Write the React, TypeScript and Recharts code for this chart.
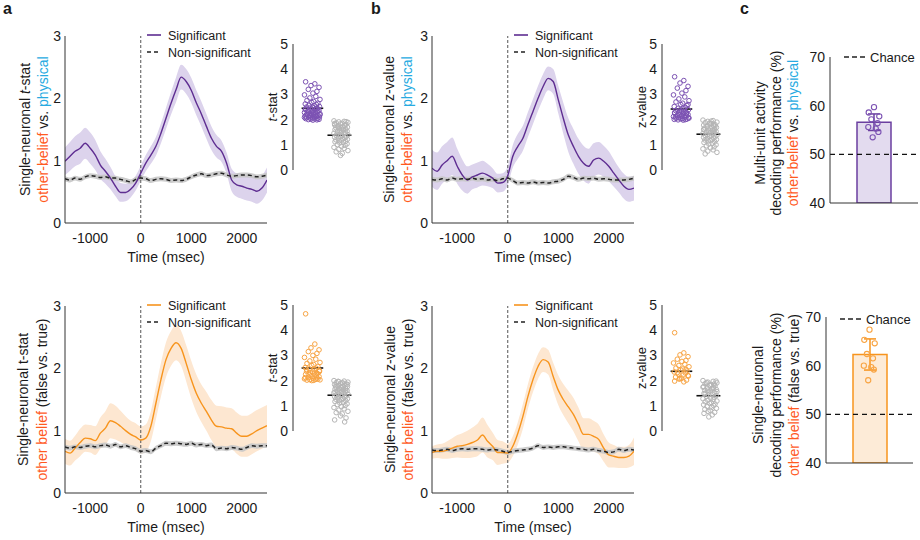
import { ComposedChart, Area, Line, XAxis, YAxis, ReferenceLine, Legend, ScatterChart, Scatter, Bar, ErrorBar } from 'recharts'

const FONT = "'Liberation Sans', Arial, Helvetica, sans-serif"
const INK = '#1a1a1a'
const AXIS = '#333'
const RED_TXT = '#ff5a1f'
const BLUE_TXT = '#27aae1'
const PURPLE = '#5e2d91'
const PURPLE_BAND = '#dcd3ec'
const PURPLE_PT = '#7c52b3'
const ORANGE = '#f7941d'
const ORANGE_BAND = '#fde7d1'
const ORANGE_PT = '#f8a443'
const GRAY_BAND = '#c6c6c6'
const GRAY_PT = '#b5b5b5'

// time axis (msec)
const timeMs = [-1500, -1400, -1300, -1200, -1100, -1000, -900, -800, -700, -600, -500, -400, -300, -200, -100, 0, 100, 200, 300, 400, 500, 600, 700, 800, 900, 1000, 1100, 1200, 1300, 1400, 1500, 1600, 1700, 1800, 1900, 2000, 2100, 2200, 2300, 2400, 2500]
const timeTicks = [-1000, 0, 1000, 2000]
const NS_SEM = 0.04

// a, top: t-stat other-belief vs physical
const aTopSig = [0.99, 1.07, 1.15, 1.2, 1.28, 1.2, 1.09, 0.93, 0.83, 0.72, 0.59, 0.49, 0.49, 0.54, 0.64, 0.8, 0.96, 1.09, 1.23, 1.44, 1.68, 1.92, 2.14, 2.34, 2.27, 2.13, 1.93, 1.75, 1.55, 1.36, 1.23, 1.15, 0.96, 0.69, 0.61, 0.59, 0.56, 0.54, 0.51, 0.56, 0.69]
const aTopErr = [0.22, 0.23, 0.24, 0.25, 0.25, 0.25, 0.24, 0.22, 0.2, 0.18, 0.16, 0.15, 0.14, 0.13, 0.12, 0.12, 0.13, 0.14, 0.15, 0.16, 0.17, 0.18, 0.2, 0.2, 0.2, 0.2, 0.2, 0.2, 0.2, 0.19, 0.18, 0.17, 0.17, 0.18, 0.19, 0.2, 0.2, 0.2, 0.2, 0.2, 0.2]
const aTopNs = [0.71, 0.69, 0.72, 0.7, 0.74, 0.76, 0.75, 0.73, 0.74, 0.72, 0.72, 0.7, 0.68, 0.66, 0.7, 0.72, 0.71, 0.68, 0.7, 0.71, 0.7, 0.68, 0.69, 0.68, 0.7, 0.74, 0.77, 0.79, 0.76, 0.77, 0.79, 0.8, 0.77, 0.75, 0.76, 0.77, 0.77, 0.76, 0.74, 0.75, 0.77]

// b, top: z-value other-belief vs physical
const bTopSig = [0.88, 0.83, 0.93, 1.0, 1.07, 0.91, 0.77, 0.69, 0.74, 0.77, 0.8, 0.77, 0.72, 0.64, 0.65, 0.76, 1.07, 1.23, 1.36, 1.58, 1.79, 2.0, 2.19, 2.32, 2.27, 1.98, 1.68, 1.41, 1.23, 1.07, 0.96, 0.91, 1.01, 1.04, 0.99, 0.91, 0.8, 0.69, 0.59, 0.54, 0.56]
const bTopErr = [0.3, 0.3, 0.3, 0.3, 0.3, 0.28, 0.25, 0.22, 0.2, 0.2, 0.2, 0.18, 0.16, 0.15, 0.15, 0.15, 0.18, 0.2, 0.2, 0.2, 0.2, 0.2, 0.2, 0.19, 0.2, 0.22, 0.25, 0.27, 0.28, 0.28, 0.28, 0.28, 0.27, 0.26, 0.25, 0.24, 0.22, 0.2, 0.2, 0.2, 0.2]
const bTopNs = [0.7, 0.69, 0.71, 0.69, 0.72, 0.7, 0.71, 0.7, 0.72, 0.7, 0.71, 0.69, 0.7, 0.68, 0.71, 0.72, 0.68, 0.64, 0.65, 0.64, 0.66, 0.64, 0.65, 0.64, 0.66, 0.67, 0.7, 0.75, 0.73, 0.7, 0.72, 0.71, 0.72, 0.7, 0.71, 0.7, 0.69, 0.69, 0.69, 0.7, 0.72]

// a, bottom: t-stat other belief (false vs true)
const aBotSig = [0.67, 0.64, 0.72, 0.81, 0.88, 0.87, 0.84, 0.96, 1.04, 1.16, 1.13, 1.07, 1.0, 0.94, 0.9, 0.85, 0.88, 1.07, 1.44, 1.82, 2.14, 2.32, 2.41, 2.32, 2.08, 1.82, 1.6, 1.44, 1.31, 1.17, 1.07, 1.06, 1.04, 1.03, 0.96, 0.91, 0.91, 0.95, 1.0, 1.04, 1.08]
const aBotErr = [0.2, 0.2, 0.2, 0.22, 0.22, 0.22, 0.23, 0.25, 0.27, 0.28, 0.27, 0.25, 0.23, 0.22, 0.22, 0.22, 0.22, 0.24, 0.26, 0.27, 0.28, 0.28, 0.28, 0.28, 0.29, 0.3, 0.3, 0.3, 0.31, 0.32, 0.33, 0.33, 0.33, 0.33, 0.33, 0.33, 0.33, 0.33, 0.33, 0.33, 0.33]
const aBotNs = [0.74, 0.72, 0.74, 0.73, 0.75, 0.76, 0.74, 0.76, 0.77, 0.75, 0.78, 0.74, 0.76, 0.73, 0.71, 0.67, 0.68, 0.66, 0.72, 0.76, 0.8, 0.79, 0.8, 0.79, 0.78, 0.8, 0.77, 0.78, 0.76, 0.77, 0.71, 0.72, 0.71, 0.73, 0.72, 0.7, 0.73, 0.76, 0.75, 0.76, 0.76]

// b, bottom: z-value other belief (false vs true)
const bBotSig = [0.65, 0.67, 0.67, 0.69, 0.72, 0.75, 0.76, 0.78, 0.81, 0.85, 0.93, 0.83, 0.75, 0.65, 0.65, 0.64, 0.75, 0.96, 1.23, 1.55, 1.82, 2.03, 2.14, 2.1, 1.87, 1.65, 1.5, 1.38, 1.26, 1.1, 0.94, 0.94, 0.91, 0.86, 0.72, 0.61, 0.59, 0.57, 0.57, 0.59, 0.67]
const bBotErr = [0.1, 0.11, 0.12, 0.14, 0.16, 0.18, 0.2, 0.22, 0.24, 0.26, 0.28, 0.26, 0.22, 0.2, 0.18, 0.15, 0.16, 0.18, 0.2, 0.2, 0.2, 0.2, 0.2, 0.2, 0.22, 0.24, 0.25, 0.26, 0.27, 0.27, 0.26, 0.26, 0.25, 0.24, 0.22, 0.2, 0.18, 0.17, 0.17, 0.18, 0.22]
const bBotNs = [0.69, 0.68, 0.69, 0.7, 0.68, 0.7, 0.71, 0.7, 0.71, 0.71, 0.7, 0.69, 0.7, 0.69, 0.67, 0.65, 0.67, 0.68, 0.69, 0.7, 0.72, 0.76, 0.73, 0.74, 0.73, 0.74, 0.74, 0.73, 0.72, 0.71, 0.7, 0.69, 0.7, 0.68, 0.67, 0.65, 0.66, 0.7, 0.68, 0.7, 0.69]

// per-neuron peak values (strip plots)
const aTopPts = [3.5, 3.42, 3.35, 3.28, 3.2, 3.12, 3.05, 2.98, 2.92, 2.86, 2.8, 2.76, 2.72, 2.68, 2.65, 2.62, 2.6, 2.57, 2.55, 2.52, 2.5, 2.48, 2.46, 2.44, 2.42, 2.4, 2.38, 2.36, 2.34, 2.32, 2.3, 2.28, 2.26, 2.25, 2.23, 2.21, 2.2, 2.18, 2.17, 2.15, 2.14, 2.12, 2.11, 2.1, 2.08, 2.07, 2.06, 2.05, 2.04, 2.03, 2.02, 2.01, 2.0, 1.99, 1.98, 2.09, 2.13, 2.16, 2.19, 2.22, 2.27, 2.31, 2.35, 2.4, 2.45]
const aTopGray = [1.95, 1.93, 1.91, 1.89, 1.87, 1.85, 1.83, 1.81, 1.79, 1.77, 1.75, 1.72, 1.7, 1.68, 1.66, 1.64, 1.62, 1.6, 1.58, 1.56, 1.54, 1.52, 1.5, 1.48, 1.46, 1.44, 1.42, 1.4, 1.38, 1.36, 1.34, 1.32, 1.3, 1.28, 1.26, 1.24, 1.22, 1.2, 1.18, 1.16, 1.14, 1.12, 1.1, 1.07, 1.04, 1.01, 0.98, 0.94, 0.9, 0.86, 0.82, 0.77, 0.72, 0.66, 0.58, 1.92, 1.84, 1.76, 1.69, 1.61]
const bTopPts = [3.7, 3.55, 3.45, 3.32, 3.25, 3.15, 3.05, 2.98, 2.9, 2.82, 2.75, 2.7, 2.65, 2.6, 2.56, 2.52, 2.48, 2.45, 2.42, 2.39, 2.36, 2.33, 2.3, 2.28, 2.26, 2.24, 2.22, 2.2, 2.18, 2.16, 2.14, 2.12, 2.1, 2.08, 2.06, 2.05, 2.04, 2.03, 2.02, 2.01, 2.0, 1.99, 1.98, 2.07, 2.11, 2.15, 2.19, 2.23, 2.27, 2.32, 2.38, 2.6]
const bTopGray = [1.98, 1.96, 1.93, 1.9, 1.88, 1.85, 1.83, 1.8, 1.78, 1.76, 1.73, 1.71, 1.69, 1.67, 1.65, 1.63, 1.61, 1.59, 1.57, 1.55, 1.53, 1.51, 1.49, 1.47, 1.45, 1.43, 1.41, 1.39, 1.37, 1.35, 1.33, 1.31, 1.29, 1.27, 1.25, 1.23, 1.21, 1.19, 1.17, 1.15, 1.12, 1.09, 1.06, 1.03, 1.0, 0.96, 0.92, 0.88, 0.84, 0.8, 0.75, 0.7, 0.64, 1.94, 1.86, 1.74, 1.62, 1.52]
const aBotPts = [4.65, 3.45, 3.3, 3.22, 3.15, 3.08, 3.0, 2.92, 2.85, 2.78, 2.72, 2.68, 2.64, 2.6, 2.56, 2.52, 2.49, 2.46, 2.43, 2.4, 2.37, 2.34, 2.31, 2.28, 2.25, 2.22, 2.19, 2.16, 2.13, 2.11, 2.09, 2.07, 2.05, 2.04, 2.03, 2.02, 2.01, 2.0, 2.06, 2.12, 2.18, 2.24, 2.3, 2.36, 2.44]
const aBotGray = [2.0, 1.98, 1.96, 1.94, 1.92, 1.9, 1.88, 1.86, 1.84, 1.82, 1.8, 1.78, 1.76, 1.74, 1.72, 1.7, 1.68, 1.66, 1.64, 1.62, 1.6, 1.58, 1.56, 1.54, 1.52, 1.5, 1.48, 1.46, 1.44, 1.42, 1.4, 1.38, 1.36, 1.34, 1.32, 1.3, 1.28, 1.26, 1.24, 1.22, 1.2, 1.17, 1.14, 1.11, 1.08, 1.05, 1.01, 0.97, 0.93, 0.88, 0.83, 0.78, 0.73, 0.68, 0.6, 0.52, 0.44, 0.36, 1.97, 1.91, 1.85, 1.79, 1.73, 1.67, 1.61, 1.55]
const bBotPts = [3.9, 3.1, 3.02, 2.95, 2.85, 2.8, 2.76, 2.7, 2.65, 2.6, 2.55, 2.5, 2.46, 2.42, 2.38, 2.34, 2.3, 2.26, 2.22, 2.18, 2.14, 2.1, 2.06, 2.02, 1.98, 1.95, 2.08, 2.2, 2.32, 2.44]
const bBotGray = [2.0, 1.97, 1.94, 1.91, 1.88, 1.85, 1.82, 1.79, 1.76, 1.73, 1.7, 1.67, 1.64, 1.61, 1.58, 1.55, 1.52, 1.49, 1.46, 1.43, 1.4, 1.37, 1.34, 1.31, 1.28, 1.25, 1.22, 1.19, 1.16, 1.13, 1.1, 1.07, 1.04, 1.01, 0.98, 0.94, 0.9, 0.86, 0.82, 0.78, 0.74, 0.7, 0.64, 0.56, 1.98, 1.92, 1.86, 1.8, 1.74, 1.68, 1.62, 1.56, 1.5]
const stripMeans = { aTop: [2.45, 1.38], bTop: [2.42, 1.42], aBot: [2.5, 1.42], bBot: [2.37, 1.4] }

// c: decoding performance (%)
const cTopMean = 56.6
const cTopErr = 1.7
const cTopPts = [59.7, 58.6, 57.8, 57.2, 56.4, 55.6, 55.3, 54.6, 53.5]
const cBotMean = 62.3
const cBotErr = 3.2
const cBotPts = [67.4, 65.3, 64.6, 62.4, 61.5, 60.0, 59.7, 59.2, 57.0]

// horizontal jitter of dots (x offsets)
const stripJitter = [-0.34, 0.14, -0.06, 0.36, -0.2, 0.25, 0.04, -0.4, 0.19, -0.12, 0.41, -0.27, 0.08, -0.02, 0.3, -0.36, 0.22, -0.16, 0.11, 0.38, -0.29, 0.02, -0.1, 0.28]
const barJitter = [0.0, -0.12, 0.12, -0.06, 0.08, -0.13, 0.04, 0.1, -0.03]

type Seg = { t: string; c?: string; i?: boolean }

const rotLabel = (lines: Seg[][], xs: number[], dy: number, size: number) => (props: any) => {
  const vb = props.viewBox || { y: 0, height: 0 }
  const cy = vb.y + vb.height / 2 + dy
  return (
    <g>
      {lines.map((segs, k) => (
        <text key={k} x={xs[k]} y={cy} transform={`rotate(-90 ${xs[k]} ${cy})`} textAnchor="middle" dominantBaseline="central" fontSize={size} fill={INK}>
          {segs.map((s, j) => (
            <tspan key={j} fill={s.c ?? INK} fontStyle={s.i ? 'italic' : undefined}>{s.t}</tspan>
          ))}
        </text>
      ))}
    </g>
  )
}

const SeriesLegend = ({ color }: { color: string }) => (
  <svg width={140} height={34} style={{ display: 'block' }}>
    <line x1={2} x2={16} y1={8} y2={8} stroke={color} strokeWidth={1.6} />
    <text x={23} y={12.5} fontSize={12.5} fill={INK}>Significant</text>
    <line x1={2} x2={16} y1={25} y2={25} stroke="#222" strokeWidth={1.6} strokeDasharray="4 3" />
    <text x={23} y={29.5} fontSize={12.5} fill={INK}>Non-significant</text>
  </svg>
)

const ChanceLegend = () => (
  <svg width={80} height={16} style={{ display: 'block' }}>
    <line x1={0} x2={21} y1={7} y2={7} stroke="#222" strokeWidth={1.4} strokeDasharray="5 3" />
    <text x={26} y={11.5} fontSize={13} fill={INK}>Chance</text>
  </svg>
)

interface TimeProps {
  left: number; top: number; sig: number[]; err: number[]; ns: number[]
  line: string; band: string; lines: Seg[][]; labelX: number[]
}

function TimePanel({ left, top, sig, err, ns, line, band, lines, labelX }: TimeProps) {
  const rows = timeMs.map((t, i) => ({
    t,
    band: [sig[i] - err[i], sig[i] + err[i]],
    m: sig[i],
    nsBand: [ns[i] - NS_SEM, ns[i] + NS_SEM],
    ns: ns[i],
  }))
  return (
    <div style={{ position: 'absolute', left, top }}>
      <ComposedChart width={275} height={270} data={rows} margin={{ top: 36, right: 8, bottom: 8, left: 20 }}>
        <XAxis dataKey="t" type="number" domain={[-1500, 2500]} ticks={timeTicks} allowDataOverflow
          tick={{ fontSize: 14, fill: INK }} tickLine={false} tickSize={4} tickMargin={6} axisLine={{ stroke: AXIS }} height={39}
          label={{ value: 'Time (msec)', position: 'insideBottom', offset: 0, fontSize: 14, fill: INK }} />
        <YAxis type="number" domain={[0, 3]} ticks={[0, 1, 2, 3]} width={45} tick={{ fontSize: 14, fill: INK }}
          tickLine={false} tickSize={2} tickMargin={2} axisLine={{ stroke: AXIS }} label={rotLabel(lines, labelX, 0, 14)} />
        <Area dataKey="band" type="monotone" stroke="none" fill={band} fillOpacity={1} isAnimationActive={false} />
        <Area dataKey="nsBand" type="monotone" stroke="none" fill={GRAY_BAND} fillOpacity={0.9} isAnimationActive={false} />
        <ReferenceLine x={0} stroke="#555" strokeDasharray="3 2" strokeWidth={1} />
        <Line dataKey="m" type="monotone" stroke={line} strokeWidth={1.4} dot={false} isAnimationActive={false} />
        <Line dataKey="ns" type="monotone" stroke="#222" strokeWidth={1.5} strokeDasharray="4 3" dot={false} isAnimationActive={false} />
        <Legend verticalAlign="middle" align="center" layout="horizontal" content={() => <SeriesLegend color={line} />}
          wrapperStyle={{ left: 145, top: 27, width: 140, height: 34 }} />
      </ComposedChart>
    </div>
  )
}

interface StripProps {
  left: number; top: number; pts: number[]; gray: number[]; means: number[]; color: string; label: Seg[]
}

function StripPanel({ left, top, pts, gray, means, color, label }: StripProps) {
  const sigPts = pts.map((v, i) => ({ x: 1 + stripJitter[i % stripJitter.length], y: v }))
  const grayPts = gray.map((v, i) => ({ x: 2.5 + 0.9 * stripJitter[(i + 7) % stripJitter.length], y: v }))
  const dot = (c: string) => (p: any) => <circle cx={p.cx} cy={p.cy} r={2.3} fill="none" stroke={c} strokeWidth={1} />
  return (
    <div style={{ position: 'absolute', left, top }}>
      <ScatterChart width={110} height={200} margin={{ top: 44, right: 0, bottom: 30, left: 14 }}>
        <XAxis type="number" dataKey="x" domain={[0, 3.5]} hide />
        <YAxis type="number" dataKey="y" domain={[0, 5]} ticks={[0, 1, 2, 3, 4, 5]} width={29} tickSize={3} tickMargin={2}
          tickLine={false} axisLine={{ stroke: AXIS }} tick={{ fontSize: 14, fill: INK }} label={rotLabel([label], [22], 0, 13)} />
        <Scatter data={grayPts} shape={dot(GRAY_PT)} isAnimationActive={false} />
        <Scatter data={sigPts} shape={dot(color)} isAnimationActive={false} />
        <ReferenceLine segment={[{ x: 0.45, y: means[0] }, { x: 1.58, y: means[0] }]} stroke="#111" strokeWidth={1.6} />
        <ReferenceLine segment={[{ x: 1.8, y: means[1] }, { x: 3.05, y: means[1] }]} stroke="#111" strokeWidth={1.6} />
      </ScatterChart>
    </div>
  )
}

interface BarProps {
  left: number; top: number; mean: number; err: number; pts: number[]
  fill: string; stroke: string; ptColor: string; lines: Seg[][]; labelX: number[]; labelDy: number
  margin: { top: number; right: number; bottom: number; left: number }; legendPos: { left: number; top: number }
}

function BarPanel({ left, top, mean, err, pts, fill, stroke, ptColor, lines, labelX, labelDy, margin, legendPos }: BarProps) {
  const w = 220
  const h = 230
  const dots = pts.map((v, i) => ({ x: 1 + barJitter[i % barJitter.length], y: v }))
  return (
    <div style={{ position: 'absolute', left, top, width: w, height: h }}>
      <div style={{ position: 'absolute', left: 0, top: 0 }}>
        <ComposedChart width={w} height={h} data={[{ g: 'perf', v: mean, e: err }]} margin={margin}>
          <XAxis dataKey="g" tick={false} tickLine={false} axisLine={{ stroke: AXIS }} height={1} />
          <YAxis type="number" domain={[40, 70]} ticks={[40, 50, 60, 70]} width={30} tickLine={false} tickSize={2} tickMargin={3}
            axisLine={{ stroke: AXIS }} tick={{ fontSize: 14, fill: INK }} allowDataOverflow
            label={rotLabel(lines, labelX, labelDy, 14)} />
          <Bar dataKey="v" barSize={34} fill={fill} stroke={stroke} strokeWidth={1.5} isAnimationActive={false}>
            <ErrorBar dataKey="e" width={6} stroke={stroke} strokeWidth={1.5} direction="y" />
          </Bar>
          <ReferenceLine y={50} stroke="#111" strokeDasharray="5 4" strokeWidth={1.3} />
          <Legend verticalAlign="middle" align="center" layout="horizontal" content={() => <ChanceLegend />}
            wrapperStyle={{ left: legendPos.left, top: legendPos.top, width: 80, height: 16 }} />
        </ComposedChart>
      </div>
      <div style={{ position: 'absolute', left: 0, top: 0 }}>
        <ScatterChart width={w} height={h} margin={{ ...margin, left: margin.left + 30, bottom: margin.bottom + 1 }}>
          <XAxis type="number" dataKey="x" domain={[0, 2]} hide />
          <YAxis type="number" dataKey="y" domain={[40, 70]} hide />
          <Scatter data={dots} isAnimationActive={false}
            shape={(p: any) => <circle cx={p.cx} cy={p.cy} r={2.6} fill="none" stroke={ptColor} strokeWidth={1.1} />} />
        </ScatterChart>
      </div>
    </div>
  )
}

const ofVsPhysical: Seg[] = [{ t: 'other-belief', c: RED_TXT }, { t: ' vs. ' }, { t: 'physical', c: BLUE_TXT }]
const ofFalseTrue: Seg[] = [{ t: 'other belief', c: RED_TXT }, { t: ' (false vs. true)' }]

const letter = (ch: string, left: number) => (
  <div style={{ position: 'absolute', left, top: 0, fontSize: 16, fontWeight: 'bold', lineHeight: '18px', color: INK }}>{ch}</div>
)

export default function App() {
  return (
    <div style={{ position: 'absolute', left: 0, top: 0, width: 920, height: 540, background: '#fff', fontFamily: FONT, overflow: 'hidden' }}>
      {letter('a', 3)}
      {letter('b', 371)}
      {letter('c', 740)}

      <TimePanel left={0} top={0} sig={aTopSig} err={aTopErr} ns={aTopNs} line={PURPLE} band={PURPLE_BAND}
        lines={[[{ t: 'Single-neuronal ' }, { t: 't', i: true }, { t: '-stat' }], ofVsPhysical]} labelX={[25, 43]} />
      <StripPanel left={250} top={0} pts={aTopPts} gray={aTopGray} means={stripMeans.aTop} color={PURPLE_PT}
        label={[{ t: 't', i: true }, { t: '-stat' }]} />

      <TimePanel left={367} top={0} sig={bTopSig} err={bTopErr} ns={bTopNs} line={PURPLE} band={PURPLE_BAND}
        lines={[[{ t: 'Single-neuronal z-value' }], ofVsPhysical]} labelX={[22, 40]} />
      <StripPanel left={619} top={0} pts={bTopPts} gray={bTopGray} means={stripMeans.bTop} color={PURPLE_PT}
        label={[{ t: 'z-value' }]} />

      <BarPanel left={700} top={0} mean={cTopMean} err={cTopErr} pts={cTopPts} fill="#e3dbef" stroke="#6b3fa0" ptColor={PURPLE_PT}
        lines={[[{ t: 'Multi-unit activity' }], [{ t: 'decoding performance (%)' }], ofVsPhysical]} labelX={[60, 76, 93]} labelDy={3}
        margin={{ top: 57, right: 2, bottom: 26, left: 100 }} legendPos={{ left: 144, top: 50 }} />

      <TimePanel left={0} top={270} sig={aBotSig} err={aBotErr} ns={aBotNs} line={ORANGE} band={ORANGE_BAND}
        lines={[[{ t: 'Single-neuronal t-stat' }], ofFalseTrue]} labelX={[23, 42]} />
      <StripPanel left={250} top={261} pts={aBotPts} gray={aBotGray} means={stripMeans.aBot} color={ORANGE_PT}
        label={[{ t: 't', i: true }, { t: '-stat' }]} />

      <TimePanel left={367} top={270} sig={bBotSig} err={bBotErr} ns={bBotNs} line={ORANGE} band={ORANGE_BAND}
        lines={[[{ t: 'Single-neuronal z-value' }], ofFalseTrue]} labelX={[23, 41]} />
      <StripPanel left={619} top={261} pts={bBotPts} gray={bBotGray} means={stripMeans.bBot} color={ORANGE_PT}
        label={[{ t: 'z-value' }]} />

      <BarPanel left={700} top={270} mean={cBotMean} err={cBotErr} pts={cBotPts} fill="#fdebd7" stroke={ORANGE} ptColor={ORANGE_PT}
        lines={[[{ t: 'Single-neuronal' }], [{ t: 'decoding performance (%)' }], ofFalseTrue]} labelX={[58, 76, 94]} labelDy={5}
        margin={{ top: 47, right: 7, bottom: 36, left: 96 }} legendPos={{ left: 140, top: 42 }} />
    </div>
  )
}
